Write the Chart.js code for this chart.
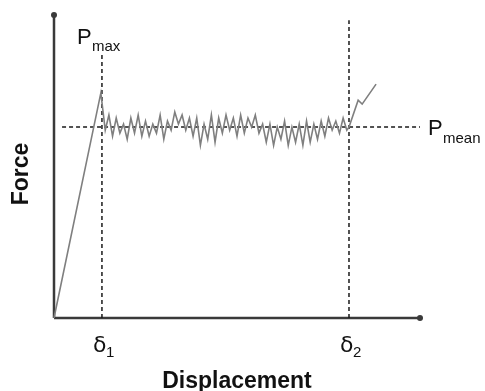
<!DOCTYPE html>
<html>
<head>
<meta charset="utf-8">
<script src="https://cdn.jsdelivr.net/npm/chart.js@4/dist/chart.umd.min.js"></script>
<style>
  html, body { margin: 0; padding: 0; background: #fff; }
  #wrap { width: 485px; height: 391px; }
</style>
</head>
<body>
<div id="wrap"><canvas id="c" width="485" height="391"></canvas></div>
<script>
// displacement / force (axis 0..100 in both directions)
const displacement = [0, 12.8, 14, 15, 16, 17, 18, 19, 20, 21, 22, 23, 24, 25, 26, 27, 28, 29, 30,
  31, 32, 33, 34, 35, 36, 37, 38, 39, 40, 41, 42, 43, 44, 45, 46, 47, 48, 49, 50,
  51, 52, 53, 54, 55, 56, 57, 58, 59, 60, 61, 62, 63, 64, 65, 66, 67, 68, 69, 70,
  71, 72, 73, 74, 75, 76, 77, 78, 79, 80, 80.6, 83.1, 84.2, 88];
const force = [0, 74.3, 62, 67, 60, 66, 61, 64, 59, 66, 61, 67, 60, 65, 60, 64, 61, 67, 59,
  65, 62, 68, 64, 67, 62, 66, 60, 66, 57, 64, 59, 67, 58, 66, 61, 67, 62, 66, 60,
  67, 61, 66, 63, 67, 61, 64, 58, 64, 57, 63, 59, 65, 57, 63, 58, 64, 57, 65, 58,
  64, 59, 65, 60, 66, 62, 65, 61, 66, 62, 63, 71.9, 70.6, 77.2];

// reference markers
const delta1 = 13.1;
const delta2 = 80.6;
const pMean = 63;
const delta1Top = 86.8;
const delta2Top = 98.3;

const curve = displacement.map((d, i) => ({ x: d, y: force[i] }));

const dashed = { borderColor: '#1a1a1a', borderWidth: 1.5, borderDash: [4, 3], pointRadius: 0, clip: false };

const labelsPlugin = {
  id: 'labels',
  afterDraw(chart) {
    const ctx = chart.ctx;
    const xs = chart.scales.x, ys = chart.scales.y;
    ctx.save();
    ctx.fillStyle = '#111';
    ctx.textBaseline = 'alphabetic';
    ctx.textAlign = 'left';

    // P max
    let px = xs.getPixelForValue(delta1) - 25;
    ctx.font = '22px "Liberation Sans", Arial, sans-serif';
    ctx.fillText('P', px, 44);
    ctx.font = '15px "Liberation Sans", Arial, sans-serif';
    ctx.fillText('max', px + 15, 51);

    // P mean
    const py = ys.getPixelForValue(pMean);
    px = xs.getPixelForValue(100) + 8;
    ctx.font = '22px "Liberation Sans", Arial, sans-serif';
    ctx.fillText('P', px, py + 8);
    ctx.font = '15px "Liberation Sans", Arial, sans-serif';
    ctx.fillText('mean', px + 15, py + 16);

    // delta labels
    [[delta1, '1'], [delta2, '2']].forEach(([d, s]) => {
      const x = xs.getPixelForValue(d) - 9;
      ctx.font = '22px "DejaVu Sans", "Liberation Sans", sans-serif';
      ctx.fillText('δ', x, 352);
      ctx.font = '15px "Liberation Sans", Arial, sans-serif';
      ctx.fillText(s, x + 13, 357);
    });

    // axis titles
    ctx.font = 'bold 23px "Liberation Sans", Arial, sans-serif';
    ctx.textAlign = 'center';
    ctx.fillText('Displacement', 237, 388);
    ctx.translate(28, 174);
    ctx.rotate(-Math.PI / 2);
    ctx.fillText('Force', 0, 0);
    ctx.restore();
  }
};

new Chart(document.getElementById('c'), {
  type: 'line',
  data: {
    datasets: [
      { data: curve, borderColor: '#7f7f7f', borderWidth: 1.6, pointRadius: 0, tension: 0, clip: false },
      { ...dashed, data: [{ x: delta1, y: 0 }, { x: delta1, y: delta1Top }] },
      { ...dashed, data: [{ x: delta2, y: 0 }, { x: delta2, y: delta2Top }] },
      { ...dashed, data: [{ x: 2.2, y: pMean }, { x: 100, y: pMean }] },
      { data: [{ x: 0, y: 0 }, { x: 0, y: 100 }], borderColor: '#3a3a3a', borderWidth: 2.5,
        pointRadius: [0, 3], pointBackgroundColor: '#3a3a3a', pointBorderWidth: 0, clip: false },
      { data: [{ x: 0, y: 0 }, { x: 100, y: 0 }], borderColor: '#3a3a3a', borderWidth: 2.5,
        pointRadius: [0, 3], pointBackgroundColor: '#3a3a3a', pointBorderWidth: 0, clip: false }
    ]
  },
  options: {
    responsive: false,
    animation: false,
    layout: { padding: { left: 54, right: 65, top: 15, bottom: 73 } },
    plugins: { legend: { display: false }, tooltip: { enabled: false } },
    scales: {
      x: { type: 'linear', min: 0, max: 100, display: false },
      y: { type: 'linear', min: 0, max: 100, display: false }
    }
  },
  plugins: [labelsPlugin]
});
</script>
</body>
</html>
